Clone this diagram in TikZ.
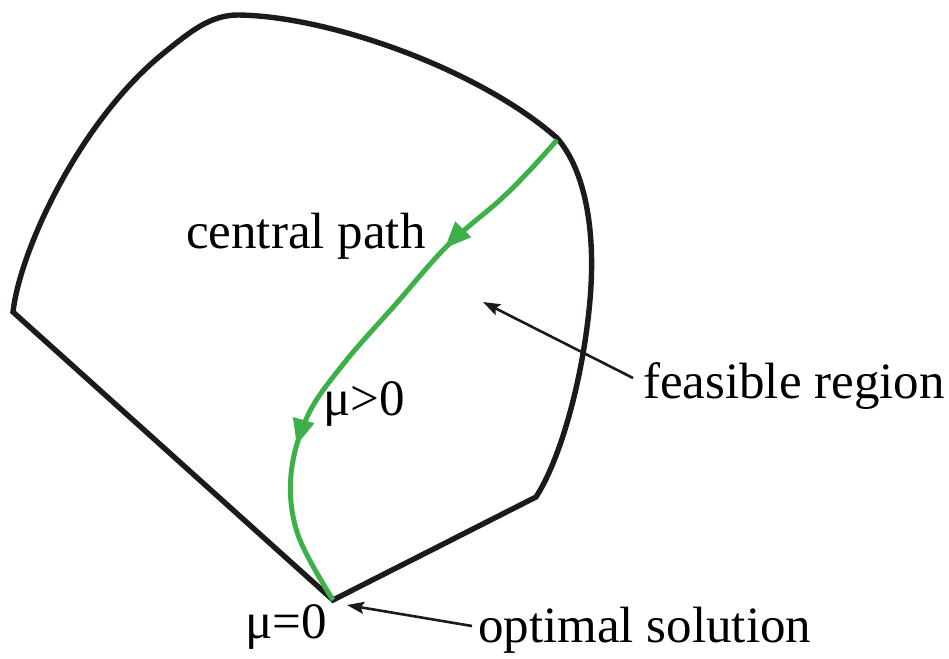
\documentclass[tikz,border=0pt]{standalone}
\usepackage{fontspec}
\setmainfont{Liberation Serif}
\usetikzlibrary{arrows.meta,decorations.markings}
\definecolor{pathgreen}{RGB}{62,176,74}
\definecolor{outline}{RGB}{30,26,27}
\tikzset{
  region/.style={draw=outline,line width=5.4pt,line join=miter},
  cpath/.style={draw=pathgreen,line width=5pt},
  pointer/.style={draw=outline,line width=2.6pt,-{Stealth[length=17pt,width=12pt,inset=3pt]}},
  lbl/.style={inner sep=0pt,anchor=base west,font=\fontsize{51}{60}\selectfont},
}
\begin{document}
\begin{tikzpicture}[x=1pt,y=-1pt]
\useasboundingbox (0,0) rectangle (949,658);
% feasible region outline
\draw[region] (13,312)
  .. controls (20,250) and (80,120) .. (165,52)
  .. controls (190,32) and (210,15) .. (238,15)
  .. controls (330,16) and (480,70) .. (557,138)
  .. controls (585,170) and (596,230) .. (590,300)
  .. controls (583,380) and (560,460) .. (536,497)
  -- (333,600) -- cycle;
% central path
\draw[cpath,postaction={decorate},decoration={markings,
   mark=at position 0.275 with {\arrow{Triangle[length=27pt,width=21pt]}},
   mark=at position 0.71 with {\arrow{Triangle[length=26pt,width=21pt]}}}]
  plot[smooth,tension=0.6] coordinates {(557,140) (530,170) (500,200) (447,246) (395,305) (345,362) (308,415) (291,475) (298,535) (333,600)};
% labels
\node[lbl] (central) at (186,248) {central path};
\node[lbl] (mupos) at (323,415) {μ>0};
\node[lbl] (feas) at (643,398) {feasible region};
\node[lbl] (muzero) at (245,638) {μ=0};
\node[lbl] (opt) at (478,642) {optimal solution};
% pointers
\coordinate (feasTail) at (633,378);
\coordinate (feasTip) at (483,302);
\coordinate (optTail) at (472,626);
\coordinate (optTip) at (347,605);
\draw[pointer] (feasTail) -- (feasTip);
\draw[pointer] (optTail) -- (optTip);
\end{tikzpicture}
\end{document}
